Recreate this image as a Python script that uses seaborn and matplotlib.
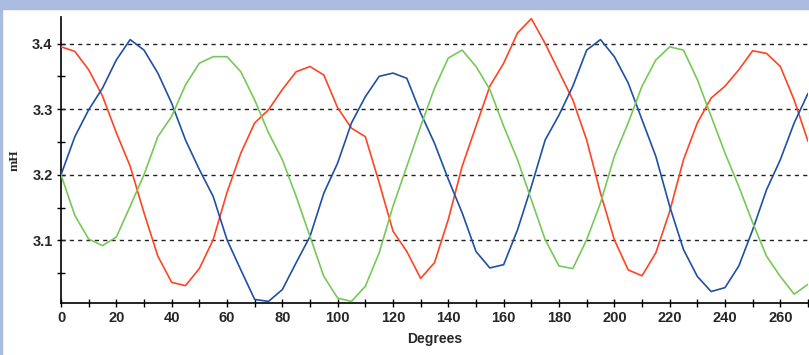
"""
Three-phase inductance vs rotor angle, redrawn with seaborn.
"""

import numpy as np
import pandas as pd
import matplotlib
matplotlib.use("Agg")
import matplotlib.pyplot as plt
import seaborn as sns
from matplotlib.patches import Rectangle


# Rotor angle, sampled every 5 degrees
degrees = list(range(0, 275, 5))

# Inductance per phase (mH)
phase_red = [
    3.395, 3.388, 3.360, 3.320, 3.264, 3.213, 3.142, 3.076, 3.036, 3.031,
    3.057, 3.101, 3.173, 3.233, 3.279, 3.299, 3.330, 3.357, 3.365, 3.352,
    3.302, 3.271, 3.258, 3.188, 3.114, 3.083, 3.042, 3.066, 3.132, 3.213,
    3.274, 3.335, 3.370, 3.416, 3.438, 3.400, 3.357, 3.314, 3.253, 3.172,
    3.101, 3.055, 3.046, 3.081, 3.144, 3.223, 3.279, 3.317, 3.335, 3.360,
    3.389, 3.385, 3.365, 3.314, 3.251,
]
phase_blue = [
    3.200, 3.258, 3.299, 3.332, 3.375, 3.406, 3.390, 3.355, 3.309, 3.253,
    3.208, 3.167, 3.101, 3.055, 3.010, 3.007, 3.025, 3.066, 3.106, 3.172,
    3.218, 3.279, 3.319, 3.350, 3.355, 3.347, 3.294, 3.248, 3.193, 3.142,
    3.083, 3.058, 3.063, 3.116, 3.182, 3.253, 3.291, 3.335, 3.390, 3.406,
    3.380, 3.340, 3.284, 3.228, 3.152, 3.086, 3.045, 3.022, 3.028, 3.061,
    3.116, 3.177, 3.223, 3.279, 3.324,
]
phase_green = [
    3.200, 3.138, 3.102, 3.092, 3.105, 3.152, 3.200, 3.258, 3.289, 3.337,
    3.370, 3.380, 3.380, 3.357, 3.314, 3.264, 3.223, 3.167, 3.106, 3.045,
    3.012, 3.007, 3.030, 3.081, 3.152, 3.213, 3.274, 3.332, 3.378, 3.390,
    3.365, 3.330, 3.274, 3.223, 3.162, 3.101, 3.061, 3.057, 3.101, 3.157,
    3.228, 3.279, 3.335, 3.375, 3.395, 3.390, 3.345, 3.289, 3.233, 3.182,
    3.127, 3.076, 3.045, 3.018, 3.033,
]

phase_names = ["A", "B", "C"]
phase_colors = {"A": "#ff4422", "B": "#1f4fa6", "C": "#77c957"}


def main():
    df = pd.DataFrame({
        "Degrees": degrees * 3,
        "mH": phase_red + phase_blue + phase_green,
        "phase": np.repeat(phase_names, len(degrees)),
    })

    sns.set_style("white")

    fig = plt.figure(figsize=(8.09, 3.55), dpi=100)
    # light blue window frame at the top and left edge
    fig.patches.append(Rectangle((0, 1 - 9 / 355), 1, 9 / 355, transform=fig.transFigure,
                                 color="#aabbe0", zorder=0))
    fig.patches.append(Rectangle((0, 0), 2 / 809, 1, transform=fig.transFigure,
                                 color="#aabbe0", zorder=0))

    ax = fig.add_axes([61 / 809, 1 - 302.7 / 355, 747 / 809, (302.7 - 17.3) / 355])

    for y in [3.1, 3.2, 3.3, 3.4]:
        ax.axhline(y, color="#222222", lw=1, ls=(0, (3, 3)), zorder=1)

    sns.lineplot(data=df, x="Degrees", y="mH", hue="phase", palette=phase_colors,
                 legend=False, lw=1.2, ax=ax, zorder=3)

    ax.set_xlim(0, 270)
    ax.set_ylim(3.005, 3.44)
    ax.set_xticks(np.arange(0, 271, 20))
    ax.set_xticks(np.arange(0, 271, 10), minor=True)
    ax.set_yticks([3.1, 3.2, 3.3, 3.4])
    ax.set_yticks(np.arange(3.05, 3.44, 0.05), minor=True)
    ax.set_yticklabels(["3.1", "3.2", "3.3", "3.4"])

    for side in ["top", "right"]:
        ax.spines[side].set_visible(False)
    for side in ["left", "bottom"]:
        ax.spines[side].set_color("black")
        ax.spines[side].set_linewidth(1.2)

    ax.tick_params(which="both", direction="inout", length=6, width=1, color="black",
                   left=True, bottom=True)
    ax.tick_params(which="major", labelsize=10.5, pad=3)
    for lbl in ax.get_xticklabels() + ax.get_yticklabels():
        lbl.set_fontweight("bold")
        lbl.set_family("Liberation Sans")

    ax.set_xlabel("Degrees", fontsize=10, fontweight="bold", family="Liberation Sans", labelpad=5)
    ax.set_ylabel("mH", fontsize=9.5, fontweight="bold", family="Liberation Serif", labelpad=8)

    fig.savefig("out.png", dpi=100)


if __name__ == "__main__":
    main()
